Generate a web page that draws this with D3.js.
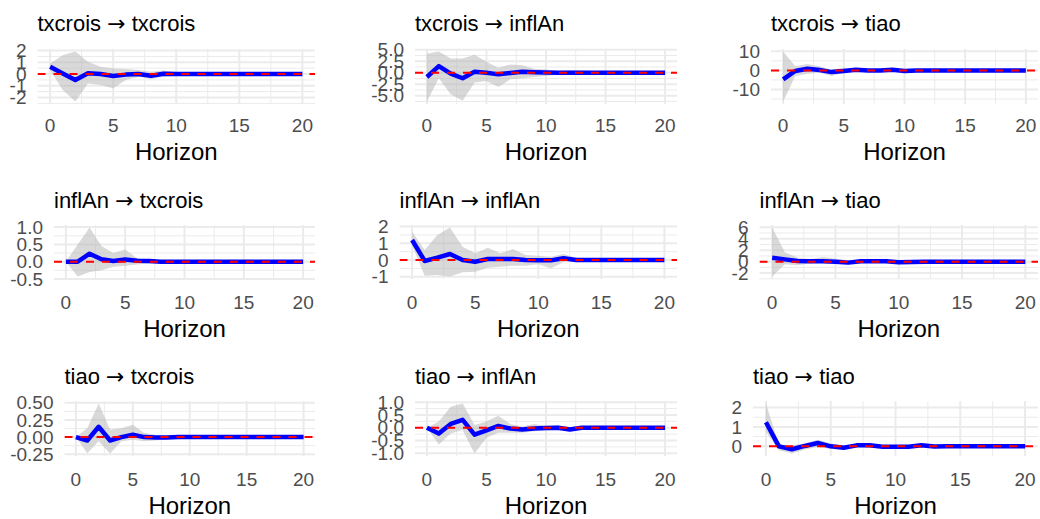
<!DOCTYPE html>
<html>
<head>
<meta charset="utf-8">
<script src="https://cdn.jsdelivr.net/npm/d3@7"></script>
<style>
  body { margin: 0; background: #fff; }
  text { font-family: "Liberation Sans", Arial, sans-serif; }
</style>
</head>
<body>
<div id="chart"></div>
<script>
// horizons and variables
const horizon = [0, 1, 2, 3, 4, 5, 6, 7, 8, 9, 10, 11, 12, 13, 14, 15, 16, 17, 18, 19, 20];
const variables = ["txcrois", "inflAn", "tiao"];

// impulse txcrois
const irf_txcrois_txcrois = [0.62, 0.05, -0.51, 0.06, 0.0, -0.17, -0.05, 0.0, -0.15, 0.02, 0.01, 0, 0, 0, 0, 0, 0, 0, 0, 0, 0];
const lo_txcrois_txcrois = [0.35, -1.36, -2.34, -0.8, -0.94, -1.22, -0.51, -0.23, -0.45, -0.23, -0.1, -0.05, -0.03, -0.02, -0.02, -0.01, -0.01, -0.01, -0.01, -0.01, -0.01];
const hi_txcrois_txcrois = [0.9, 1.6, 1.92, 1.05, 0.62, 0.48, 0.43, 0.34, 0.2, 0.3, 0.15, 0.08, 0.05, 0.03, 0.02, 0.02, 0.01, 0.01, 0.01, 0.01, 0.01];

const irf_txcrois_inflAn = [-0.93, 1.43, -0.2, -1.2, 0.2, 0.0, -0.35, -0.07, 0.2, 0.1, 0.05, 0.02, 0, 0, 0, 0, 0, 0, 0, 0, 0];
const lo_txcrois_inflAn = [-6.24, -1.2, -4.64, -6.1, -2.14, -1.79, -3.07, -1.43, -1.2, -0.93, -0.71, -0.45, -0.3, -0.3, -0.2, -0.15, -0.1, -0.08, -0.05, -0.05, -0.04];
const hi_txcrois_inflAn = [4.1, 4.61, 3.07, 3.07, 3.93, 2.36, 1.07, 1.79, 1.64, 0.86, 0.71, 0.36, 0.57, 0.5, 0.29, 0.2, 0.2, 0.1, 0.08, 0.05, 0.05];

const irf_txcrois_tiao = [-4.7, -0.3, 0.9, 0.2, -0.9, -0.3, 0.3, 0.0, -0.1, 0.3, -0.3, 0, 0, 0, 0, 0, 0, 0, 0, 0, 0];
const lo_txcrois_tiao = [-16.3, -2.9, -1.7, -1.2, -2.9, -1.2, -0.7, -0.8, -0.6, -0.4, -0.4, -0.3, -0.2, -0.15, -0.1, -0.1, -0.08, -0.05, -0.05, -0.04, -0.03];
const hi_txcrois_tiao = [9.9, 2.2, 3.4, 2.2, 0.5, 1.4, 1.0, 0.7, 0.4, 0.6, 0.3, 0.2, 0.15, 0.1, 0.1, 0.08, 0.05, 0.05, 0.04, 0.03, 0.03];

// impulse inflAn
const irf_inflAn_txcrois = [0, 0, 0.23, 0.07, 0.02, 0.06, 0.03, 0.02, 0, 0, 0, 0, 0, 0, 0, 0, 0, 0, 0, 0, 0];
const lo_inflAn_txcrois = [0, -0.43, -0.3, -0.25, -0.15, -0.12, -0.08, -0.05, -0.03, -0.02, -0.02, -0.01, -0.01, -0.01, -0.01, -0.01, -0.01, -0.01, -0.01, -0.01, -0.01];
const hi_inflAn_txcrois = [0, 0.5, 0.99, 0.45, 0.25, 0.35, 0.1, 0.05, 0.05, 0.03, 0.02, 0.01, 0.01, 0.01, 0.01, 0.01, 0.01, 0.01, 0.01, 0.01, 0.01];

const irf_inflAn_inflAn = [1.2, -0.06, 0.14, 0.36, 0.0, -0.1, 0.06, 0.06, 0.06, 0.0, -0.02, -0.02, 0.1, 0, 0, 0, 0, 0, 0, 0, 0];
const lo_inflAn_inflAn = [0.86, -0.94, -0.9, -0.99, -0.74, -0.7, -0.46, -0.4, -0.34, -0.34, -0.26, -0.5, -0.14, -0.06, -0.06, -0.05, -0.04, -0.04, -0.03, -0.03, -0.03];
const hi_inflAn_inflAn = [1.7, 0.6, 1.5, 1.95, 0.8, 0.4, 0.74, 0.4, 0.66, 0.3, 0.26, 0.2, 0.36, 0.14, 0.1, 0.08, 0.06, 0.04, 0.04, 0.03, 0.03];

const irf_inflAn_tiao = [0.69, 0.4, 0.11, 0.06, 0.06, 0.0, -0.17, 0.06, 0.06, 0.06, -0.11, -0.05, -0.03, -0.02, -0.02, -0.01, -0.01, -0.01, -0.01, -0.01, -0.01];
const lo_inflAn_tiao = [-2.6, -0.46, -0.63, -0.29, -0.2, -0.2, -0.4, -0.2, -0.15, -0.1, -0.2, -0.1, -0.08, -0.06, -0.05, -0.04, -0.03, -0.03, -0.02, -0.02, -0.02];
const hi_inflAn_tiao = [5.97, 1.66, 0.69, 0.4, 0.8, 0.51, 0.3, 0.3, 0.2, 0.2, 0.1, 0.08, 0.06, 0.05, 0.04, 0.03, 0.03, 0.02, 0.02, 0.02, 0.02];

// impulse tiao
const irf_tiao_txcrois = [0, -0.05, 0.15, -0.05, 0.0, 0.035, 0.0, -0.005, -0.005, 0, 0, 0, 0, 0, 0, 0, 0, 0, 0, 0, 0];
const lo_tiao_txcrois = [0, -0.235, -0.06, -0.239, -0.06, -0.04, -0.06, -0.05, -0.03, -0.02, -0.015, -0.01, -0.01, -0.01, -0.01, -0.01, -0.01, -0.01, -0.01, -0.01, -0.01];
const hi_tiao_txcrois = [0, 0.13, 0.489, 0.11, 0.13, 0.18, 0.06, 0.035, 0.02, 0.015, 0.01, 0.01, 0.01, 0.01, 0.01, 0.01, 0.01, 0.01, 0.01, 0.01, 0.01];

const irf_tiao_inflAn = [0, -0.23, 0.15, 0.31, -0.27, -0.1, 0.07, -0.03, -0.07, -0.03, -0.01, 0.0, -0.07, 0, 0, 0, 0, 0, 0, 0, 0];
const lo_tiao_inflAn = [0, -0.66, -0.23, -0.09, -1.01, -0.39, -0.2, -0.2, -0.2, -0.14, -0.1, -0.08, -0.12, -0.05, -0.03, -0.03, -0.03, -0.02, -0.02, -0.02, -0.02];
const hi_tiao_inflAn = [0, 0.24, 0.82, 0.95, 0.11, 0.24, 0.47, 0.15, 0.04, 0.15, 0.07, 0.11, 0.0, 0.05, 0.03, 0.03, 0.03, 0.02, 0.02, 0.02, 0.02];

const irf_tiao_tiao = [1.24, 0.0, -0.15, 0.02, 0.17, 0.0, -0.07, 0.05, 0.05, -0.02, -0.02, -0.02, 0.05, -0.01, 0, 0, 0, 0, 0, 0, 0];
const lo_tiao_tiao = [0.75, -0.2, -0.37, -0.17, -0.03, -0.14, -0.17, -0.05, -0.05, -0.07, -0.06, -0.06, -0.02, -0.04, -0.03, -0.03, -0.03, -0.03, -0.03, -0.03, -0.03];
const hi_tiao_tiao = [2.21, 0.1, 0.05, 0.14, 0.34, 0.14, 0.06, 0.1, 0.1, 0.05, 0.04, 0.04, 0.08, 0.03, 0.03, 0.03, 0.03, 0.03, 0.03, 0.03, 0.03];

// y tick values per panel (row = impulse, col = response)
const yTicks = [
    [[-2, -1, 0, 1, 2], [-5, -2.5, 0, 2.5, 5], [-10, 0, 10]],
    [[-0.5, 0, 0.5, 1], [-1, 0, 1, 2], [-2, 0, 2, 4, 6]],
    [[-0.25, 0, 0.25, 0.5], [-1, -0.5, 0, 0.5, 1], [0, 1, 2]]
];
const xTicks = [0, 5, 10, 15, 20];

const series = {
    irf: [[irf_txcrois_txcrois, irf_txcrois_inflAn, irf_txcrois_tiao],
          [irf_inflAn_txcrois, irf_inflAn_inflAn, irf_inflAn_tiao],
          [irf_tiao_txcrois, irf_tiao_inflAn, irf_tiao_tiao]],
    lo: [[lo_txcrois_txcrois, lo_txcrois_inflAn, lo_txcrois_tiao],
         [lo_inflAn_txcrois, lo_inflAn_inflAn, lo_inflAn_tiao],
         [lo_tiao_txcrois, lo_tiao_inflAn, lo_tiao_tiao]],
    hi: [[hi_txcrois_txcrois, hi_txcrois_inflAn, hi_txcrois_tiao],
         [hi_inflAn_txcrois, hi_inflAn_inflAn, hi_inflAn_tiao],
         [hi_tiao_txcrois, hi_tiao_inflAn, hi_tiao_tiao]]
};

// layout of the 3x3 grid (pixels)
const width = 1040, height = 519;
const colRight = [315, 677, 1038];
const panelLeft = [[37.5, 415, 771], [54, 399.5, 759.5], [64.5, 415, 753]];
const rowTop = [49, 225, 401];
const rowBottom = [104, 279, 456];
const titleBase = [31, 207.5, 384];
const tickBase = [132, 308.5, 485.5];
const xTitleBase = [160, 337, 514];

const svg = d3.select("#chart")
    .append("svg")
    .attr("width", width)
    .attr("height", height);

function decimals(v) {
    const s = String(v);
    return s.includes(".") ? s.split(".")[1].length : 0;
}

variables.forEach((impulse, i) => {
    variables.forEach((response, j) => {
        const left = panelLeft[i][j], right = colRight[j];
        const top = rowTop[i], bottom = rowBottom[i];
        const irf = series.irf[i][j], lo = series.lo[i][j], hi = series.hi[i][j];
        const rows = horizon.map((h, k) => ({h: h, irf: irf[k], lo: lo[k], hi: hi[k]}));

        // scales with ggplot-like 5% expansion
        const xExt = d3.extent(horizon);
        const xPad = (xExt[1] - xExt[0]) * 0.05;
        const x = d3.scaleLinear().domain([xExt[0] - xPad, xExt[1] + xPad]).range([left, right]);
        const yExt = d3.extent(lo.concat(hi, irf, [0]));
        const yPad = (yExt[1] - yExt[0]) * 0.05;
        const y = d3.scaleLinear().domain([yExt[0] - yPad, yExt[1] + yPad]).range([bottom, top]);

        const g = svg.append("g");
        const clipId = "clip-" + i + "-" + j;
        g.append("clipPath").attr("id", clipId)
            .append("rect")
            .attr("x", left).attr("y", top)
            .attr("width", right - left).attr("height", bottom - top);

        // minor grid
        const yt = yTicks[i][j];
        const step = yt[1] - yt[0];
        const yMinor = [yt[0] - step / 2].concat(yt.map(t => t + step / 2))
            .filter(v => v >= y.domain()[0] && v <= y.domain()[1]);
        const xMinor = [-2.5].concat(xTicks.map(t => t + 2.5))
            .filter(v => v >= x.domain()[0] && v <= x.domain()[1]);

        g.selectAll(".ymin").data(yMinor).enter().append("line")
            .attr("x1", left).attr("x2", right)
            .attr("y1", d => y(d)).attr("y2", d => y(d))
            .attr("stroke", "#ebebeb").attr("stroke-width", 1);
        g.selectAll(".xmin").data(xMinor).enter().append("line")
            .attr("y1", top).attr("y2", bottom)
            .attr("x1", d => x(d)).attr("x2", d => x(d))
            .attr("stroke", "#ebebeb").attr("stroke-width", 1);
        // major grid
        g.selectAll(".ymaj").data(yt).enter().append("line")
            .attr("x1", left).attr("x2", right)
            .attr("y1", d => y(d)).attr("y2", d => y(d))
            .attr("stroke", "#ebebeb").attr("stroke-width", 2);
        g.selectAll(".xmaj").data(xTicks).enter().append("line")
            .attr("y1", top).attr("y2", bottom)
            .attr("x1", d => x(d)).attr("x2", d => x(d))
            .attr("stroke", "#ebebeb").attr("stroke-width", 2);

        const plot = g.append("g").attr("clip-path", "url(#" + clipId + ")");

        // confidence band
        plot.append("path")
            .datum(rows)
            .attr("d", d3.area().x(d => x(d.h)).y0(d => y(d.lo)).y1(d => y(d.hi)))
            .attr("fill", "#b3b3b3")
            .attr("fill-opacity", 0.5);

        // impulse response
        plot.append("path")
            .datum(rows)
            .attr("d", d3.line().x(d => x(d.h)).y(d => y(d.irf)))
            .attr("fill", "none")
            .attr("stroke", "#0000ff")
            .attr("stroke-width", 4.5)
            .attr("stroke-linejoin", "round");

        // zero line
        plot.append("line")
            .attr("x1", left).attr("x2", right)
            .attr("y1", y(0)).attr("y2", y(0))
            .attr("stroke", "#ff0000")
            .attr("stroke-width", 2)
            .attr("stroke-dasharray", "8,8");

        // y labels
        const dec = d3.max(yt, decimals);
        g.selectAll(".ylab").data(yt).enter().append("text")
            .attr("x", left - 11)
            .attr("y", d => y(d))
            .attr("dy", "0.35em")
            .attr("text-anchor", "end")
            .attr("font-size", "19px")
            .attr("fill", "#4d4d4d")
            .text(d => d3.format("." + dec + "f")(d).replace("−", "-"));

        // x labels
        g.selectAll(".xlab").data(xTicks).enter().append("text")
            .attr("x", d => x(d))
            .attr("y", tickBase[i])
            .attr("text-anchor", "middle")
            .attr("font-size", "19px")
            .attr("fill", "#4d4d4d")
            .text(d => d);

        // axis title
        g.append("text")
            .attr("x", (left + right) / 2)
            .attr("y", xTitleBase[i])
            .attr("text-anchor", "middle")
            .attr("font-size", "24px")
            .attr("fill", "#000")
            .text("Horizon");

        // panel title
        const title = g.append("text")
            .attr("x", left)
            .attr("y", titleBase[i])
            .attr("font-size", "22px")
            .attr("fill", "#000");
        title.append("tspan").text(impulse + " ");
        title.append("tspan").attr("font-family", "DejaVu Sans").text("\u2192");
        title.append("tspan").text(" " + response);
    });
});
</script>
</body>
</html>
